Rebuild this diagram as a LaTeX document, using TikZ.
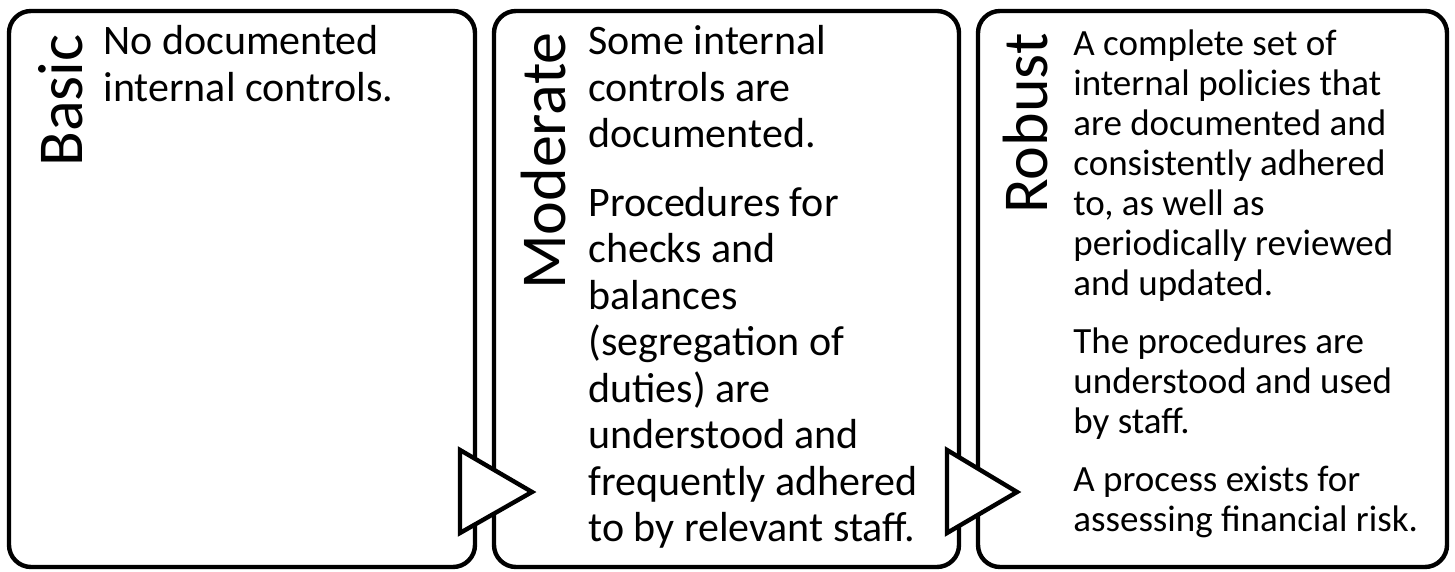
\documentclass[tikz,border=0pt]{standalone}
\usepackage{fontspec}
\setmainfont{Carlito}
\usepackage{tikz}
\usetikzlibrary{positioning}

\begin{document}
\begin{tikzpicture}[x=0.5pt, y=0.5pt,
    panel/.style={line width=2.2pt, rounded corners=11pt},
    chevron/.style={line width=2.2pt, fill=white},
    title/.style={rotate=90, anchor=base east, inner sep=0pt, font=\fontsize{32}{36}\selectfont},
    body/.style={anchor=base west, inner sep=0pt, align=left, font=\fontsize{21}{23.25}\selectfont},
    smallbody/.style={body, font=\fontsize{18.5}{20}\selectfont}]
\useasboundingbox (0, 0) rectangle (1455, 572);
    % three stages
    \draw[panel] (9, 5) rectangle (475, 561);
    \draw[panel] (494, 5) rectangle (959, 561);
    \draw[panel] (978, 5) rectangle (1447, 561);
    \draw[chevron] (460, 122) -- (532, 80) -- (460, 39) -- cycle;
    \draw[chevron] (947, 122) -- (1017, 80) -- (947, 39) -- cycle;
    \node[title] (basic) at (82, 538) {Basic};
    \node[title] (moderate) at (565, 540) {Moderate};
    \node[title] (robust) at (1047, 539) {Robust};
    % base anchor sits on the last line
    \node[body] (basictxt) at (103, 470.5) {No documented\\internal controls.};
    \node[body] (moderatetxt) at (588, 30) {Some internal\\controls are\\documented.\\[11pt]
        Procedures for\\checks and\\balances\\(segregation of\\duties) are\\understood and\\frequently adhered\\to by relevant staff.};
    \node[smallbody] (robusttxt) at (1073, 40) {A complete set of\\internal policies that\\are documented and\\consistently adhered\\to, as well as\\periodically reviewed\\and updated.\\[9pt]
        The procedures are\\understood and used\\by staff.\\[9pt]
        A process exists for\\assessing financial risk.};
\end{tikzpicture}
\end{document}
